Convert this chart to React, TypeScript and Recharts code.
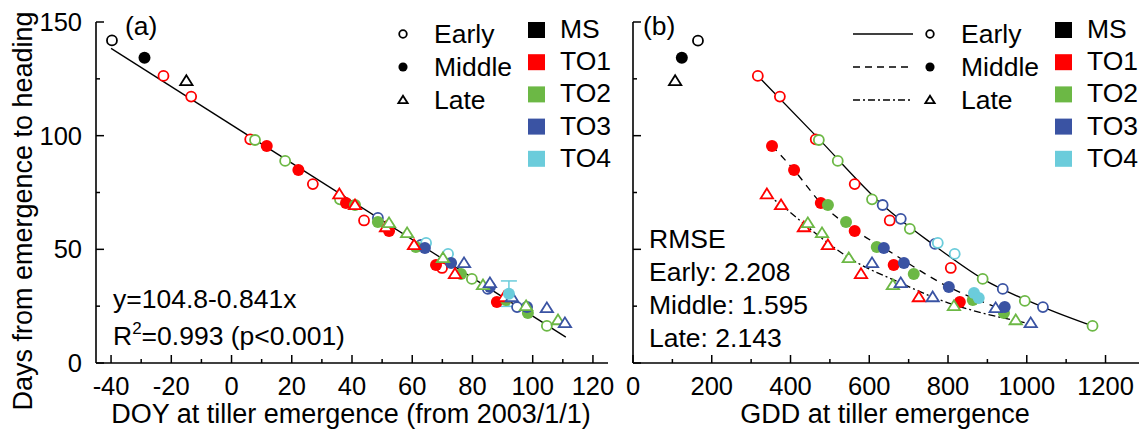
import React from 'react'
import { ComposedChart, Scatter, Line, XAxis, YAxis, ErrorBar } from 'recharts'

type Pt = [number, number]

// (a) DOY at tiller emergence -> days from emergence to heading
const doyEarlyMS: Pt[] = [[-39.7, 141.9]]
const doyMiddleMS: Pt[] = [[-28.9, 134.3]]
const doyLateMS: Pt[] = [[-15.0, 124.1]]
const doyEarlyTO1: Pt[] = [[-22.6, 126.3], [-13.4, 117.2], [6.2, 98.4], [27.0, 78.7], [44.0, 62.7], [69.9, 41.8]]
const doyMiddleTO1: Pt[] = [[11.7, 95.5], [22.2, 84.9], [38.0, 70.4], [52.3, 58.1], [67.9, 43.1], [88.1, 26.8]]
const doyLateTO1: Pt[] = [[35.8, 74.3], [41.0, 69.5], [51.3, 59.8], [60.6, 51.9], [74.2, 39.2], [90.5, 29.0]]
const doyEarlyTO2: Pt[] = [[7.8, 98.1], [17.8, 88.9], [36.0, 72.0], [79.8, 37.0], [104.7, 16.3]]
const doyMiddleTO2: Pt[] = [[41.0, 69.5], [48.6, 62.0], [61.2, 51.0], [76.2, 39.2], [91.1, 27.7], [98.4, 22.0]]
const doyLateTO2: Pt[] = [[52.3, 61.6], [58.3, 57.2], [70.2, 46.2], [83.5, 34.3], [97.8, 25.1], [108.4, 18.9]]
const doyEarlyTO3: Pt[] = [[48.6, 63.8], [62.9, 51.9], [85.1, 32.6], [94.8, 24.6]]
const doyMiddleTO3: Pt[] = [[64.2, 50.6], [72.9, 44.0], [85.8, 33.4], [98.1, 24.6]]
const doyLateTO3: Pt[] = [[77.2, 44.0], [85.8, 35.2], [93.1, 29.0], [104.7, 24.2], [110.7, 17.6]]
const doyEarlyTO4: Pt[] = [[64.6, 52.8], [71.9, 48.0]]
const doyMiddleTO4: Pt[] = [[92.1, 30.5]]
const doyMiddleTO4Err = [5.6]
const doyLateTO4: Pt[] = []
const doyFit: Pt[] = [[-40, 138.4], [111, 11.4]]

// (b) GDD at tiller emergence -> days from emergence to heading
const gddEarlyMS: Pt[] = [[165, 141.8]]
const gddMiddleMS: Pt[] = [[124, 134.3]]
const gddLateMS: Pt[] = [[107, 124.1]]
const gddEarlyTO1: Pt[] = [[317, 126.3], [373, 117.2], [464, 98.4], [563, 78.7], [652, 62.7], [807, 41.8]]
const gddMiddleTO1: Pt[] = [[353, 95.5], [409, 84.9], [477, 70.4], [563, 58.1], [662, 43.1], [830, 26.8]]
const gddLateTO1: Pt[] = [[340, 74.3], [376, 69.5], [434, 59.8], [495, 51.9], [579, 39.2], [726, 29.0]]
const gddEarlyTO2: Pt[] = [[472, 98.1], [520, 88.9], [607, 72.0], [703, 59.0], [888, 37.0], [995, 27.3], [1167, 16.3]]
const gddMiddleTO2: Pt[] = [[495, 69.5], [541, 62.0], [619, 51.0], [713, 39.2], [863, 27.7], [942, 22.0]]
const gddLateTO2: Pt[] = [[444, 61.6], [480, 57.2], [548, 46.2], [660, 34.3], [815, 25.1], [972, 18.9]]
const gddEarlyTO3: Pt[] = [[634, 69.5], [680, 63.4], [767, 52.4], [939, 32.6], [1041, 24.6]]
const gddMiddleTO3: Pt[] = [[637, 50.6], [688, 44.0], [802, 33.4], [944, 24.6]]
const gddLateTO3: Pt[] = [[607, 44.0], [680, 35.2], [761, 29.0], [921, 24.2], [1010, 17.6]]
const gddEarlyTO4: Pt[] = [[774, 52.8], [817, 48.0]]
const gddMiddleTO4: Pt[] = [[866, 30.8], [878, 28.6]]
const gddLateTO4: Pt[] = []
const gddEarlyFit: Pt[] = [[317, 126.3], [470, 98.9], [634, 69.5], [764, 51.9], [888, 37.0], [1041, 24.6], [1167, 16.3]]
const gddMiddleFit: Pt[] = [[353, 95.5], [409, 84.9], [477, 70.4], [566, 58.1], [637, 50.6], [802, 33.4], [942, 23.3]]
const gddLateFit: Pt[] = [[340, 74.3], [376, 69.5], [495, 52.8], [553, 45.8], [680, 35.2], [761, 29.0], [1010, 17.2]]

const doyTicks = [-40, -30, -20, -10, 0, 10, 20, 30, 40, 50, 60, 70, 80, 90, 100, 110, 120]
const gddTicks = [0, 100, 200, 300, 400, 500, 600, 700, 800, 900, 1000, 1100, 1200]
const dayTicks = [0, 25, 50, 75, 100, 125, 150]

const kinds = ['Early', 'Middle', 'Late']
const groups = ['MS', 'TO1', 'TO2', 'TO3', 'TO4']
const rmseLines = ['RMSE', 'Early: 2.208', 'Middle: 1.595', 'Late: 2.143']

const groupColors = ['#000000', '#FF0000', '#6CB845', '#3A53A3', '#6BCCDB']
const FONT = '"Liberation Sans", Arial, sans-serif'

const toRows = (pts: Pt[]) => pts.map(([x, y]) => ({ x, y }))

function marker(kind: string, color: string, r = 5) {
  return (p: any) => {
    const { cx, cy } = p
    if (cx == null || cy == null) return <g />
    if (kind === 'Early')
      return <circle cx={cx} cy={cy} r={r} fill="#fff" stroke={color} strokeWidth={1.8} />
    if (kind === 'Middle') return <circle cx={cx} cy={cy} r={r * 1.2} fill={color} />
    const s = r * 1.12
    return (
      <path
        d={`M${cx},${cy - s}L${cx + s * 1.1},${cy + s * 0.75}L${cx - s * 1.1},${cy + s * 0.75}Z`}
        fill="#fff"
        stroke={color}
        strokeWidth={1.8}
        strokeLinejoin="miter"
      />
    )
  }
}

const xTick = (step: number) => (p: any) => {
  const { x, y, payload } = p
  const v = payload.value
  const major = v % step === 0
  return (
    <g>
      <line x1={x} x2={x} y1={y} y2={y - (major ? 8 : 4)} stroke="#000" strokeWidth={1.5} />
      {major && (
        <text x={x} y={y + 32} textAnchor="middle" fontSize={25.5} fontFamily={FONT} fill="#000">
          {v}
        </text>
      )}
    </g>
  )
}

const yTick = (labels: boolean) => (p: any) => {
  const { x, y, payload } = p
  const v = payload.value
  const major = v % 50 === 0
  return (
    <g>
      <line x1={x} x2={x + (major ? 8 : 4)} y1={y} y2={y} stroke="#000" strokeWidth={1.5} />
      {labels && major && (
        <text x={x - 14} y={y + 9} textAnchor="end" fontSize={25.5} fontFamily={FONT} fill="#000">
          {v}
        </text>
      )}
    </g>
  )
}

interface Series {
  kind: string
  color: string
  pts: Pt[]
}

function buildSeries(byKind: Pt[][][]): Series[] {
  const out: Series[] = []
  byKind.forEach((list, k) =>
    list.forEach((pts, g) => out.push({ kind: kinds[k], color: groupColors[g], pts }))
  )
  return out
}

const doySeries = buildSeries([
  [doyEarlyMS, doyEarlyTO1, doyEarlyTO2, doyEarlyTO3, doyEarlyTO4],
  [doyMiddleMS, doyMiddleTO1, doyMiddleTO2, doyMiddleTO3, []],
  [doyLateMS, doyLateTO1, doyLateTO2, doyLateTO3, doyLateTO4],
])
const gddSeries = buildSeries([
  [gddEarlyMS, gddEarlyTO1, gddEarlyTO2, gddEarlyTO3, gddEarlyTO4],
  [gddMiddleMS, gddMiddleTO1, gddMiddleTO2, gddMiddleTO3, gddMiddleTO4],
  [gddLateMS, gddLateTO1, gddLateTO2, gddLateTO3, gddLateTO4],
])

const errRows = doyMiddleTO4.map(([x, y], i) => ({ x, y, err: doyMiddleTO4Err[i] }))

interface Fit {
  pts: Pt[]
  dash?: string
  type: 'linear' | 'monotone'
}

function Panel({
  left, width, mLeft, mRight, xDomain, xTicks, step, yLabels, series, fits, withErr,
}: {
  left: number; width: number; mLeft: number; mRight: number; xDomain: number[]; xTicks: number[]
  step: number; yLabels: boolean; series: Series[]; fits: Fit[]; withErr: boolean
}) {
  const axisLine = { stroke: '#000', strokeWidth: 1.6 }
  return (
    <div style={{ position: 'absolute', left, top: 0 }}>
      <ComposedChart width={width} height={429} margin={{ top: 22, right: mRight, bottom: 36, left: mLeft - 40 }}>
        <XAxis
          type="number" dataKey="x" domain={xDomain} ticks={xTicks} interval={0} allowDataOverflow
          height={30} tickSize={0} tickMargin={0} tickLine={false} axisLine={axisLine} tick={xTick(step)}
        />
        <YAxis
          type="number" dataKey="y" domain={[0, 150]} ticks={dayTicks} interval={0} allowDataOverflow
          width={40} tickSize={0} tickMargin={0} tickLine={false} axisLine={axisLine} tick={yTick(yLabels)}
        />
        {fits.map((f, i) => (
          <Line
            key={'fit' + i} data={toRows(f.pts)} dataKey="y" type={f.type} stroke="#000" strokeWidth={1.3}
            strokeDasharray={f.dash} dot={false} activeDot={false} isAnimationActive={false}
          />
        ))}
        {series.filter(s => s.pts.length > 0).map((s, i) => (
          <Scatter
            key={'s' + i} data={toRows(s.pts)} shape={marker(s.kind, s.color)} isAnimationActive={false}
          />
        ))}
        {withErr && (
          <Scatter data={errRows} shape={marker('Middle', groupColors[4])} isAnimationActive={false}>
            <ErrorBar dataKey="err" direction="y" width={8} stroke={groupColors[4]} strokeWidth={1.5} />
          </Scatter>
        )}
      </ComposedChart>
    </div>
  )
}

function Legend({ x, lines }: { x: number; lines: boolean }) {
  const dashes = [undefined, '7 5', '7 3 2 3']
  const mx = lines ? x + 77 : x
  const tx = lines ? x + 108 : x + 31
  const sx = lines ? x + 202 : x + 125
  return (
    <g>
      {kinds.map((k, i) => {
        const cy = 34 + i * 33
        return (
          <g key={k}>
            {lines && (
              <line x1={x} x2={x + 60} y1={cy} y2={cy} stroke="#000" strokeWidth={1.3} strokeDasharray={dashes[i]} />
            )}
            {marker(k, '#000', 3.8)({ cx: mx, cy })}
            <text x={tx} y={cy + 9} fontSize={26.5}>{k}</text>
          </g>
        )
      })}
      {groups.map((g, i) => (
        <g key={g}>
          <rect x={sx} y={22 + i * 32.2} width={17} height={16} fill={groupColors[i]} />
          <text x={sx + 32} y={38 + i * 32.2} fontSize={26.5}>{g}</text>
        </g>
      ))}
    </g>
  )
}

export default function App() {
  return (
    <div style={{ position: 'absolute', left: 0, top: 0, width: 1139, height: 429, background: '#fff', fontFamily: FONT }}>
      <Panel
        left={0} width={620} mLeft={96} mRight={12} xDomain={[-45, 125]} xTicks={doyTicks} step={20}
        yLabels series={doySeries} fits={[{ pts: doyFit, type: 'linear' }]} withErr
      />
      <Panel
        left={600} width={539} mLeft={33} mRight={0} xDomain={[0, 1285]} xTicks={gddTicks} step={200}
        yLabels={false} series={gddSeries} withErr={false}
        fits={[
          { pts: gddEarlyFit, type: 'monotone' },
          { pts: gddMiddleFit, type: 'monotone', dash: '7 6' },
          { pts: gddLateFit, type: 'monotone', dash: '7 3 2 3' },
        ]}
      />
      <svg width={1139} height={429} style={{ position: 'absolute', left: 0, top: 0, pointerEvents: 'none' }} fontFamily={FONT} fill="#000">
        <text transform="translate(32,211) rotate(-90)" textAnchor="middle" fontSize={27}>
          Days from emergence to heading
        </text>
        <text x={351} y={423} textAnchor="middle" fontSize={27}>DOY at tiller emergence (from 2003/1/1)</text>
        <text x={885} y={423} textAnchor="middle" fontSize={27}>GDD at tiller emergence</text>
        <text x={125} y={35} fontSize={26.5}>(a)</text>
        <text x={643} y={35} fontSize={26.5}>(b)</text>
        <Legend x={403} lines={false} />
        <Legend x={853} lines />
        <text x={113} y={308} fontSize={26.5}>y=104.8-0.841x</text>
        <text x={113} y={345} fontSize={26.5}>
          R<tspan fontSize={17} dy={-11}>2</tspan>
          <tspan dy={11}>=0.993 (p&lt;0.001)</tspan>
        </text>
        {rmseLines.map((t, i) => (
          <text key={t} x={649} y={248 + i * 33} fontSize={26.5}>{t}</text>
        ))}
      </svg>
    </div>
  )
}
